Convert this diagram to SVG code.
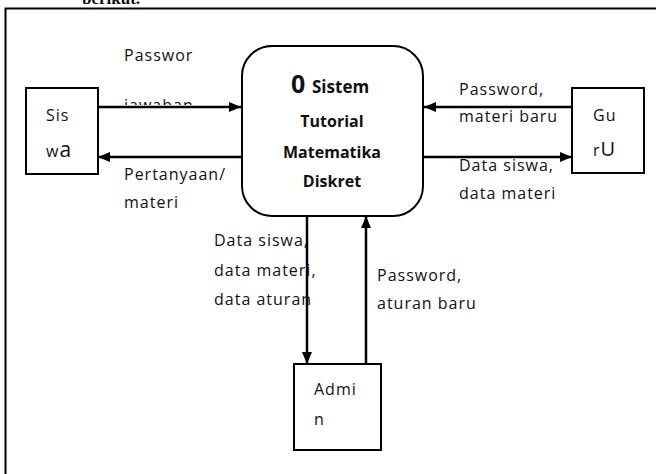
<svg xmlns="http://www.w3.org/2000/svg" width="656" height="474" viewBox="0 0 656 474">
  <style>
    .lbl { font-family: "Open Sans", "Noto Sans", "Liberation Sans", sans-serif; font-size: 16px; letter-spacing: 1px; fill: #111; }
    .box { fill: #fff; stroke: #000; stroke-width: 2; }
    .flow { stroke: #000; stroke-width: 2.5; fill: none; marker-end: url(#arrow); }
    .bold { font-family: "Open Sans", "Noto Sans", "Liberation Sans", sans-serif; font-weight: bold; font-size: 16px; fill: #111; }
  </style>
  <defs>
    <marker id="arrow" viewBox="0 0 12 10" refX="12" refY="5" markerWidth="12" markerHeight="10" markerUnits="userSpaceOnUse" orient="auto">
      <path d="M0,0 L12,5 L0,10 Z" fill="#000"/>
    </marker>
    <clipPath id="cutText">
      <rect x="100" y="60" width="140" height="45"/>
    </clipPath>
  </defs>
  <rect width="656" height="474" fill="#fff"/>

  <!-- page heading, mostly above the frame -->
  <text x="82" y="4" font-family="Liberation Serif, serif" font-weight="bold" font-size="17" fill="#111">berikut.</text>

  <!-- frame -->
  <path d="M5.5,474 V8.5 H656" fill="none" stroke="#000" stroke-width="2"/>

  <g id="connectors">
    <line class="flow" x1="98" y1="107" x2="241" y2="107"/>
    <line class="flow" x1="242" y1="157" x2="98" y2="157"/>
    <line class="flow" x1="572" y1="107" x2="424" y2="107"/>
    <line class="flow" x1="423" y1="157" x2="572" y2="157"/>
    <line class="flow" x1="307" y1="216" x2="307" y2="364"/>
    <line class="flow" x1="366" y1="364" x2="366" y2="216"/>

    <text class="lbl" x="124" y="61">Passwor</text>
    <text class="lbl" x="124" y="111" clip-path="url(#cutText)">jawaban</text>
    <text class="lbl" x="124" y="180">Pertanyaan/</text>
    <text class="lbl" x="124" y="208">materi</text>

    <text class="lbl" x="459" y="95">Password,</text>
    <text class="lbl" x="459" y="122">materi baru</text>
    <text class="lbl" x="459" y="171">Data siswa,</text>
    <text class="lbl" x="459" y="199">data materi</text>

    <text class="lbl" x="214" y="246">Data siswa,</text>
    <text class="lbl" x="214" y="276">data materi,</text>
    <text class="lbl" x="214" y="305">data aturan</text>

    <text class="lbl" x="377" y="281">Password,</text>
    <text class="lbl" x="377" y="309">aturan baru</text>
  </g>

  <g id="siswa">
    <rect class="box" x="26" y="88" width="72" height="86"/>
    <text class="lbl" x="46" y="121">Sis</text>
    <text class="lbl" x="46" y="157">w<tspan font-size="21">a</tspan></text>
  </g>

  <g id="sistem">
    <rect class="box" x="242" y="46" width="181" height="170" rx="30" ry="30"/>
    <text class="bold" x="291" y="93" style="font-size:25px">0</text>
    <text class="bold" x="312" y="93" style="font-size:17px">Sistem</text>
    <text class="bold" x="332" y="127" text-anchor="middle">Tutorial</text>
    <text class="bold" x="332" y="158" text-anchor="middle">Matematika</text>
    <text class="bold" x="332" y="187" text-anchor="middle">Diskret</text>
  </g>

  <g id="guru">
    <rect class="box" x="572" y="88" width="72" height="85"/>
    <text class="lbl" x="593" y="121">Gu</text>
    <text class="lbl" x="593" y="156">r<tspan font-size="20">U</tspan></text>
  </g>

  <g id="admin">
    <rect class="box" x="294" y="364" width="87" height="86"/>
    <text class="lbl" x="314" y="395">Admi</text>
    <text class="lbl" x="314" y="425">n</text>
  </g>
</svg>
